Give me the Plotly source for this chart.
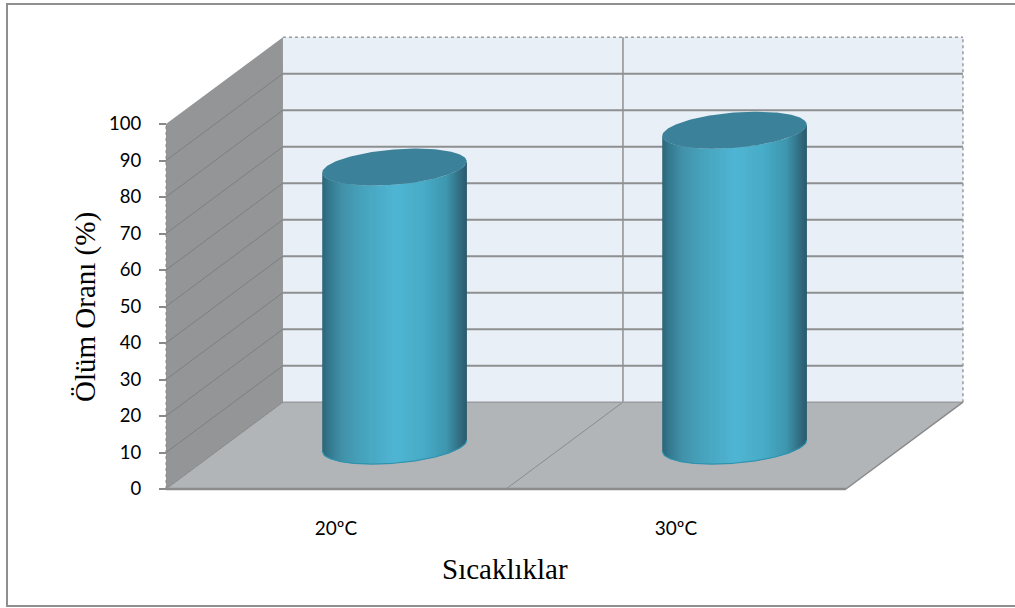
import numpy as np
import plotly.graph_objects as go

# Chart data
categories = ["20ºC", "30ºC"]
category_pos = [0, 1]
mortality = [76.3, 86.4]
y_ticks = [0, 10, 20, 30, 40, 50, 60, 70, 80, 90, 100]

PAGE_W, PAGE_H = 1015, 608

# Pixel scale of the axes: the plot area fills the page, the axes float inside it
PX_PER_X = 340.0
PX_PER_V = 3.65
ORIGIN_PX = (166, 489)

# Oblique projection of the 3D box, in axis units
DEPTH_X = 0.344
DEPTH_Y = 23.8
X_MIN, X_MAX = -0.5, 1.5
Y_MAX = 100

# Cylinder cross-section, in axis units
HALF_W = 0.2125
SKEW = 0.0647
DISC_H = 5.07

SIDE = "#939597"
FLOOR = "#b1b5b8"
BACK = "#e9eff6"
GRID = "#8e8f91"
TOP_DISC = "#3a8199"
RIM = "#2f93ae"

# Horizontal shading across a cylinder: (fraction, rgb)
SHADE = [(0.0, (44, 100, 120)), (0.05, (52, 122, 144)), (0.14, (66, 146, 170)),
         (0.30, (72, 165, 191)), (0.50, (79, 181, 211)), (0.70, (72, 172, 199)),
         (0.86, (62, 150, 174)), (0.95, (50, 110, 130)), (1.0, (44, 90, 108))]


def project(x, v, d=0.0):
    return x + DEPTH_X * d, v + DEPTH_Y * d


def shade(f):
    fs = [s[0] for s in SHADE]
    rgb = [np.interp(f, fs, [s[1][i] for s in SHADE]) for i in range(3)]
    return "rgb(%d,%d,%d)" % tuple(round(c) for c in rgb)


fig = go.Figure()


def poly(xs, ys, color):
    fig.add_trace(go.Scatter(x=list(xs), y=list(ys), mode="lines", fill="toself",
                             fillcolor=color, line=dict(width=0), hoverinfo="skip",
                             showlegend=False))


def line(p, q, color=GRID, width=1.0, dash="solid"):
    fig.add_trace(go.Scatter(x=[p[0], q[0]], y=[p[1], q[1]], mode="lines",
                             line=dict(color=color, width=width, dash=dash),
                             hoverinfo="skip", showlegend=False))


def face(points, color):
    poly([p[0] for p in points], [p[1] for p in points], color)


# Walls and floor
face([project(X_MIN, 0, 1), project(X_MAX, 0, 1), project(X_MAX, Y_MAX, 1), project(X_MIN, Y_MAX, 1)], BACK)
face([project(X_MIN, 0), project(X_MIN, 0, 1), project(X_MIN, Y_MAX, 1), project(X_MIN, Y_MAX)], SIDE)
face([project(X_MIN, 0), project(X_MAX, 0), project(X_MAX, 0, 1), project(X_MIN, 0, 1)], FLOOR)

# Gridlines along the side wall and the back wall
for t in y_ticks[1:]:
    if t < Y_MAX:
        line(project(X_MIN, t), project(X_MIN, t, 1), "#7d7f81", 1.0)
        line(project(X_MIN, t, 1), project(X_MAX, t, 1), GRID, 2.0)

# Divider between the two categories
line(project(0.5, 0), project(0.5, 0, 1), "#8a8c8e", 1.0)
line(project(0.5, 0, 1), project(0.5, Y_MAX, 1), GRID, 1.5)

# Box outlines
line(project(X_MIN, 0, 1), project(X_MAX, 0, 1), "#9a9c9e", 1.5)
line(project(X_MIN, Y_MAX, 1), project(X_MAX, Y_MAX, 1), "#9a9a9a", 1.5, "dot")
line(project(X_MAX, 0, 1), project(X_MAX, Y_MAX, 1), "#9a9a9a", 1.5, "dot")
line(project(X_MAX, 0), project(X_MAX, 0, 1), "#8a8a8a", 1.5)
line(project(X_MIN, 0), project(X_MIN, 0, 1), "#85878a", 1.0)
line(project(X_MIN, 0), project(X_MAX, 0), "#8c8c8c", 2.5)
line(project(X_MIN, 0), project(X_MIN, Y_MAX), "#8a8a8a", 1.0, "dot")

# Cylinders: shaded side made of narrow strips, with a flat disc on top
PHI = np.arctan2(SKEW, np.sqrt(HALF_W ** 2 - SKEW ** 2))
STRIPS = 146


def front_rim(u):
    theta = 2 * np.pi - np.arccos(u)
    return DISC_H * np.sin(theta + PHI)


for cx, value in zip(category_pos, mortality):
    cxp, base = project(cx, 0, 0.5)
    us = np.linspace(-1, 1, STRIPS + 1)
    for i in range(STRIPS):
        u1, u2 = us[i], us[min(i + 2, STRIPS)]
        xs = [cxp + HALF_W * u1, cxp + HALF_W * u2, cxp + HALF_W * u2, cxp + HALF_W * u1]
        ys = [base + front_rim(u1), base + front_rim(u2),
              base + value + front_rim(u2), base + value + front_rim(u1)]
        poly(xs, ys, shade((us[i] + us[i + 1] + 2) / 4))
    # Thin highlight along the lower edge of the side surface
    fig.add_trace(go.Scatter(x=cxp + HALF_W * us, y=base + front_rim(us), mode="lines",
                             line=dict(color=RIM, width=1.2), hoverinfo="skip", showlegend=False))
    t = np.linspace(0, 2 * np.pi, 181)
    a = np.sqrt(HALF_W ** 2 - SKEW ** 2)
    poly(cxp + a * np.cos(t) + SKEW * np.sin(t), base + value + DISC_H * np.sin(t), TOP_DISC)


def paper_x(px):
    return px / PAGE_W


def paper_y(py):
    return 1 - py / PAGE_H


x_range = [X_MIN - ORIGIN_PX[0] / PX_PER_X, X_MIN + (PAGE_W - ORIGIN_PX[0]) / PX_PER_X]
y_range = [-(PAGE_H - ORIGIN_PX[1]) / PX_PER_V, ORIGIN_PX[1] / PX_PER_V]

fig.update_layout(
    width=PAGE_W, height=PAGE_H,
    margin=dict(l=0, r=0, t=0, b=0, autoexpand=False),
    paper_bgcolor="white", plot_bgcolor="rgba(0,0,0,0)",
    showlegend=False,
    xaxis=dict(range=x_range, anchor="free", position=paper_y(ORIGIN_PX[1]),
               tickmode="array", tickvals=category_pos, ticktext=categories,
               showgrid=False, zeroline=False, showline=False, ticks="", ticklabelstandoff=26,
               tickfont=dict(family="Lato", size=19, color="#000000")),
    yaxis=dict(range=y_range, anchor="free", position=paper_x(ORIGIN_PX[0]),
               tickmode="array", tickvals=y_ticks,
               showgrid=False, zeroline=False, showline=False,
               ticks="outside", ticklen=7, tickwidth=1.5, tickcolor="#8a8a8a", ticklabelstandoff=14,
               tickfont=dict(family="Lato", size=18.5, color="#000000")),
    shapes=[dict(type="rect", xref="paper", yref="paper",
                 x0=paper_x(7), x1=paper_x(1030), y0=paper_y(606), y1=paper_y(4),
                 line=dict(color="#8f8f8f", width=2), layer="below")],
    annotations=[
        dict(text="Sıcaklıklar", xref="paper", yref="paper", x=paper_x(505), y=paper_y(569),
             xanchor="center", yanchor="middle", showarrow=False,
             font=dict(family="Liberation Serif", size=29, color="#000000")),
        dict(text="Ölüm Oranı (%)", xref="paper", yref="paper", x=paper_x(85), y=paper_y(307),
             xanchor="center", yanchor="middle", textangle=-90, showarrow=False,
             font=dict(family="Liberation Serif", size=29, color="#000000")),
    ],
)

fig.write_html("out.html", config=dict(displayModeBar=False))
